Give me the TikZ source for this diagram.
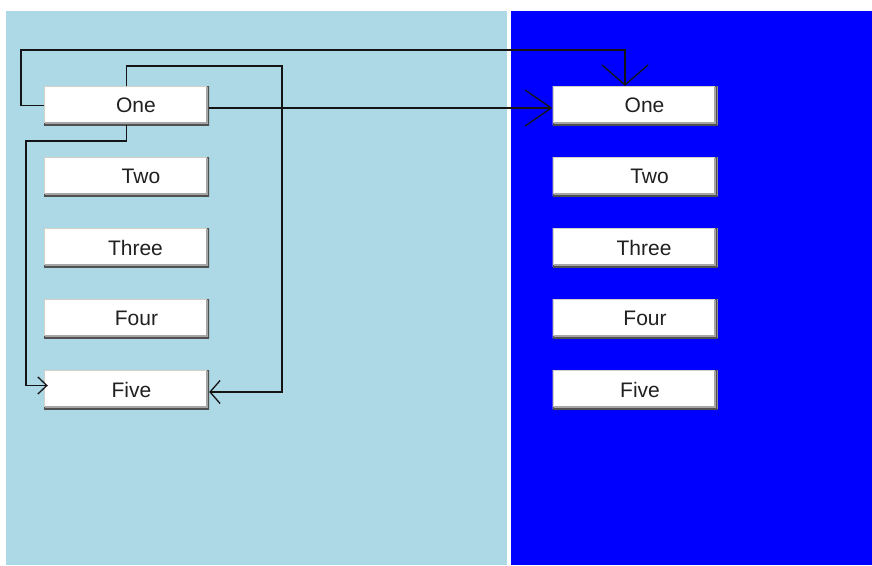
\documentclass[tikz,border=0pt]{standalone}
\usepackage{fontspec}
\setmainfont{Liberation Sans}
\usetikzlibrary{arrows.meta}
\definecolor{panelA}{HTML}{ADD8E6}
\definecolor{panelB}{HTML}{0000FF}
\definecolor{btndark}{HTML}{505050}
\definecolor{btnlight}{HTML}{D4D0C8}
\definecolor{txt}{HTML}{202020}
\tikzset{
  btn/.style={fill=white, draw=none, minimum width=165pt, minimum height=39pt, inner sep=0pt,
    text=txt, font=\fontsize{21}{24}\selectfont,
    path picture={
      \draw[line width=2.5pt, btnlight] (path picture bounding box.south west) -- (path picture bounding box.north west) -- (path picture bounding box.north east);
      \draw[line width=5pt, btndark] (path picture bounding box.south west) -- (path picture bounding box.south east) -- (path picture bounding box.north east);
      \draw[line width=2pt, gray!70] ([shift={(1pt,2.5pt)}]path picture bounding box.south west) -- ([shift={(-2.5pt,2.5pt)}]path picture bounding box.south east) -- ([shift={(-2.5pt,-1pt)}]path picture bounding box.north east);
    }},
  conn/.style={draw=black!92, line width=1.5pt, line join=miter}
}
\begin{document}
\begin{tikzpicture}[x=1pt, y=-1pt]
\useasboundingbox (0,0) rectangle (872,565);
\fill[white] (0,0) rectangle (872,565);
\fill[panelA] (6,11) rectangle (507,565);
\fill[panelB] (511,11) rectangle (872,565);

% left column
\node[btn] (l1) at (126.5,105.5) {\hspace{19pt}One};
\node[btn] (l2) at (126.5,176.5) {\hspace{29pt}Two};
\node[btn] (l3) at (126.5,247.5) {\hspace{18pt}Three};
\node[btn] (l4) at (126.5,318.5) {\hspace{20pt}Four};
\node[btn] (l5) at (126.5,389.5) {\hspace{10pt}Five};
% right column
\node[btn] (r1) at (635,105.5) {\hspace{19pt}One};
\node[btn] (r2) at (635,176.5) {\hspace{29pt}Two};
\node[btn] (r3) at (635,247.5) {\hspace{18pt}Three};
\node[btn] (r4) at (635,318.5) {\hspace{20pt}Four};
\node[btn] (r5) at (635,389.5) {\hspace{10pt}Five};

% connectors
\draw[conn, -{Straight Barb[length=20pt, width=46pt, line width=1.3pt]}]
  (l1.west) -| (21,50) -| ([xshift=-10pt]r1.north);
\draw[conn, -{Straight Barb[length=26pt, width=36pt, line width=1.3pt]}]
  ([yshift=-2.5pt]l1.east) -- ([yshift=-2.5pt]r1.west);
\draw[conn, -{Straight Barb[length=10pt, width=23pt, line width=1.3pt]}]
  (l1.north) |- (282,66) |- ([yshift=-2.5pt]l5.east);
\draw[conn, -{Straight Barb[length=9pt, width=17pt, line width=1.3pt]}]
  (l1.south) |- (26,141) |- ([yshift=4pt, xshift=4pt]l5.west);
\end{tikzpicture}
\end{document}
